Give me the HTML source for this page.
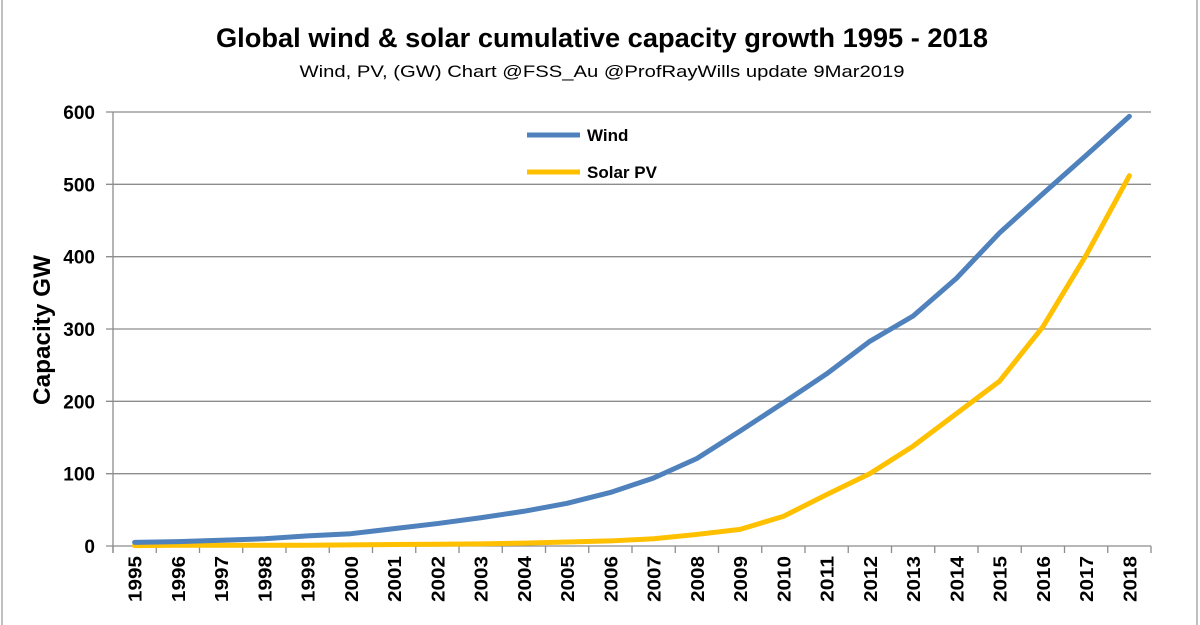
<!DOCTYPE html>
<html><head><meta charset="utf-8"><style>
body{margin:0;background:#fff;}
svg{display:block;font-family:"Liberation Sans",sans-serif;}
</style></head><body>
<svg id="c" width="1200" height="625" viewBox="0 0 1200 625">
<rect x="2" y="-2" width="1195" height="640" fill="none" stroke="#aaa" stroke-width="1.5"/>
<text x="602" y="47" text-anchor="middle" font-size="27" font-weight="bold" textLength="772" lengthAdjust="spacingAndGlyphs">Global wind &amp; solar cumulative capacity growth 1995 - 2018</text>
<text x="602" y="77" text-anchor="middle" font-size="17" textLength="605" lengthAdjust="spacingAndGlyphs">Wind, PV, (GW)  Chart @FSS_Au @ProfRayWills update 9Mar2019</text>
<text transform="translate(50,330) rotate(-90)" text-anchor="middle" font-size="24" font-weight="bold" textLength="150" lengthAdjust="spacingAndGlyphs">Capacity GW</text>
<g id="grid"></g><g id="axes"></g><g id="series"></g>
<g>
<line x1="527" y1="135" x2="580" y2="135" stroke="#4f81bd" stroke-width="5"/>
<text x="587" y="141" font-size="17" font-weight="bold">Wind</text>
<line x1="527" y1="172" x2="580" y2="172" stroke="#ffc000" stroke-width="5"/>
<text x="587" y="178" font-size="17" font-weight="bold">Solar PV</text>
</g>
</svg>
<script>
const years=[1995,1996,1997,1998,1999,2000,2001,2002,2003,2004,2005,2006,2007,2008,2009,2010,2011,2012,2013,2014,2015,2016,2017,2018];
const wind=[5,6,8,10,14,17,24,31,39,48,59,74,94,121,159,198,238,283,318,370,433,487,540,594];
const solar=[0.6,1,1,1,1,1.5,2,2.5,3,4,5.5,7,10,16,23,41,71,100,138,183,228,303,402,512];
const yTicks=[0,100,200,300,400,500,600];
const L=113,R=1151,Y0=546,Y600=112;
const NS="http://www.w3.org/2000/svg";
const step=(R-L)/years.length;
function xs(i){return L+step*(i+0.5);}
function ys(v){return Y0-(v/600)*(Y0-Y600);}
function mk(t,a,p){const e=document.createElementNS(NS,t);for(const k in a)e.setAttribute(k,a[k]);p.appendChild(e);return e;}
const grid=document.getElementById('grid'),axes=document.getElementById('axes'),ser=document.getElementById('series');
yTicks.forEach(v=>{
 const g=mk('line',{x1:L-7,x2:R,y1:ys(v),y2:ys(v),stroke:'#8c8c8c','stroke-width':1.3},grid);
 
 
 const t=mk('text',{x:95,y:ys(v)+7,'text-anchor':'end','font-size':19,'font-weight':'bold'},axes);
 t.textContent=v;
 
 
});
const ya=mk('line',{x1:L,x2:L,y1:Y600,y2:Y0+7,stroke:'#8c8c8c','stroke-width':1.3},axes);


for(let i=0;i<=years.length;i++){
 const tk=mk('line',{x1:L+step*i,x2:L+step*i,y1:Y0,y2:Y0+7,stroke:'#8c8c8c','stroke-width':1.3},axes);
 
 
}
years.forEach((y,i)=>{
 const t=mk('text',{transform:`translate(${xs(i)+7},${556}) rotate(-90)`,'text-anchor':'end','font-size':18,'font-weight':'bold',textLength:46,lengthAdjust:'spacingAndGlyphs'},axes);
 t.textContent=y;
 
 
});
function line(arr,col,name){
 const p=mk('polyline',{points:arr.map((v,i)=>xs(i)+','+ys(v)).join(' '),fill:'none',stroke:col,'stroke-width':5,'stroke-linejoin':'round','stroke-linecap':'round'},ser);
 
 
}
line(solar,'#ffc000','solar-pv-line');
line(wind,'#4f81bd','wind-line');
</script>
</body></html>
